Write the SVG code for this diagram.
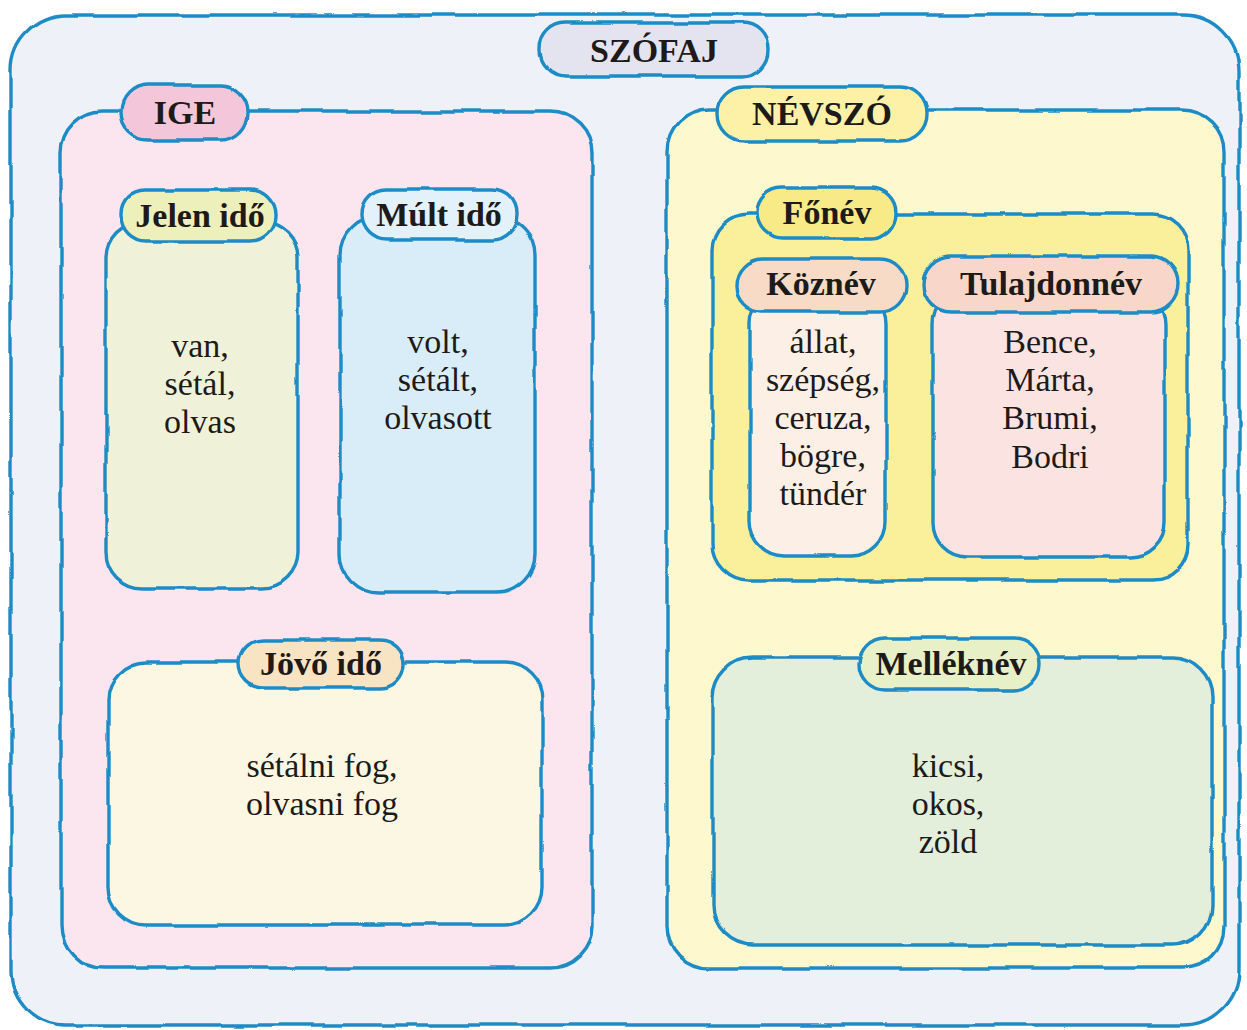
<svg xmlns="http://www.w3.org/2000/svg" width="1247" height="1030" viewBox="0 0 1247 1030">
<defs>
<filter id="wob" x="-5%" y="-5%" width="110%" height="110%">
<feTurbulence type="fractalNoise" baseFrequency="0.02" numOctaves="2" seed="3"/>
<feDisplacementMap in="SourceGraphic" scale="5" xChannelSelector="R" yChannelSelector="G"/>
</filter>
</defs>
<style>
.s{stroke:#1f8bc6;stroke-width:3.4;filter:url(#wob)}
.h{font-family:"Liberation Serif","Times New Roman",serif;font-weight:bold;fill:#1e1a1a;text-anchor:middle}
.b{font-family:"Liberation Serif","Times New Roman",serif;font-size:34px;fill:#1e1a1a;text-anchor:middle}
</style>
<rect width="1247" height="1030" fill="#ffffff"/>
<g id="szofaj">
<rect class="s" x="11" y="15" width="1228" height="1010" rx="55" fill="#eef1f8"/>
<rect class="s" x="540" y="23" width="228" height="53" rx="26" fill="#e4e4f1"/>
<text class="h" x="654" y="62" font-size="34">SZÓFAJ</text>
</g>
<g id="ige">
<rect class="s" x="61" y="111" width="531" height="857" rx="42" fill="#fbe5ee"/>
<rect class="s" x="121" y="85" width="127" height="55" rx="27" fill="#f4c6da"/>
<text class="h" x="185" y="124" font-size="34">IGE</text>
</g>
<g id="jelen">
<rect class="s" x="106" y="222" width="192" height="366" rx="36" fill="#eff2d8"/>
<rect class="s" x="121" y="190" width="154" height="51" rx="25" fill="#eef0bc"/>
<text class="h" x="200" y="227" font-size="34">Jelen idő</text>
<text class="b" x="200" y="357">van,</text>
<text class="b" x="200" y="395">sétál,</text>
<text class="b" x="200" y="433">olvas</text>
</g>
<g id="mult">
<rect class="s" x="340" y="217" width="195" height="375" rx="38" fill="#d9edf9"/>
<rect class="s" x="361" y="189" width="156" height="51" rx="25" fill="#e3f1fa"/>
<text class="h" x="439" y="226" font-size="34">Múlt idő</text>
<text class="b" x="438" y="353">volt,</text>
<text class="b" x="438" y="391">sétált,</text>
<text class="b" x="438" y="429">olvasott</text>
</g>
<g id="jovo">
<rect class="s" x="108" y="662" width="434" height="263" rx="38" fill="#fcf7e3"/>
<rect class="s" x="239" y="640" width="165" height="48" rx="24" fill="#f8e3c3"/>
<text class="h" x="321" y="675" font-size="34">Jövő idő</text>
<text class="b" x="322" y="777">sétálni fog,</text>
<text class="b" x="322" y="815">olvasni fog</text>
</g>
<g id="nevszo">
<rect class="s" x="667" y="110" width="557" height="858" rx="42" fill="#fdf8cd"/>
<rect class="s" x="717" y="86" width="210" height="55" rx="27" fill="#fcf1a6"/>
<text class="h" x="822" y="125" font-size="34">NÉVSZÓ</text>
</g>
<g id="fonev">
<rect class="s" x="712" y="214" width="476" height="366" rx="36" fill="#faf09c"/>
<rect class="s" x="757" y="188" width="139" height="50" rx="25" fill="#f8ea86"/>
<text class="h" x="827" y="224" font-size="34">Főnév</text>
</g>
<g id="koznev">
<rect class="s" x="750" y="290" width="136" height="266" rx="34" fill="#fcefe6"/>
<rect class="s" x="736" y="259" width="170" height="53" rx="26" fill="#f7dbc6"/>
<text class="h" x="821" y="295" font-size="34">Köznév</text>
<text class="b" x="823" y="353">állat,</text>
<text class="b" x="823" y="391">szépség,</text>
<text class="b" x="823" y="429">ceruza,</text>
<text class="b" x="823" y="467">bögre,</text>
<text class="b" x="823" y="505">tündér</text>
</g>
<g id="tulajdonnev">
<rect class="s" x="933" y="290" width="232" height="267" rx="34" fill="#fbe3e2"/>
<rect class="s" x="923" y="256" width="255" height="56" rx="28" fill="#f8d6c9"/>
<text class="h" x="1051" y="295" font-size="34">Tulajdonnév</text>
<text class="b" x="1050" y="353">Bence,</text>
<text class="b" x="1050" y="391">Márta,</text>
<text class="b" x="1050" y="429">Brumi,</text>
<text class="b" x="1050" y="468">Bodri</text>
</g>
<g id="melleknev">
<rect class="s" x="713" y="657" width="499" height="288" rx="40" fill="#e3eedb"/>
<rect class="s" x="859" y="638" width="181" height="52" rx="26" fill="#e7f0c6"/>
<text class="h" x="951" y="675" font-size="34">Melléknév</text>
<text class="b" x="948" y="777">kicsi,</text>
<text class="b" x="948" y="815">okos,</text>
<text class="b" x="948" y="853">zöld</text>
</g>
<g id="connectors"></g>
</svg>
